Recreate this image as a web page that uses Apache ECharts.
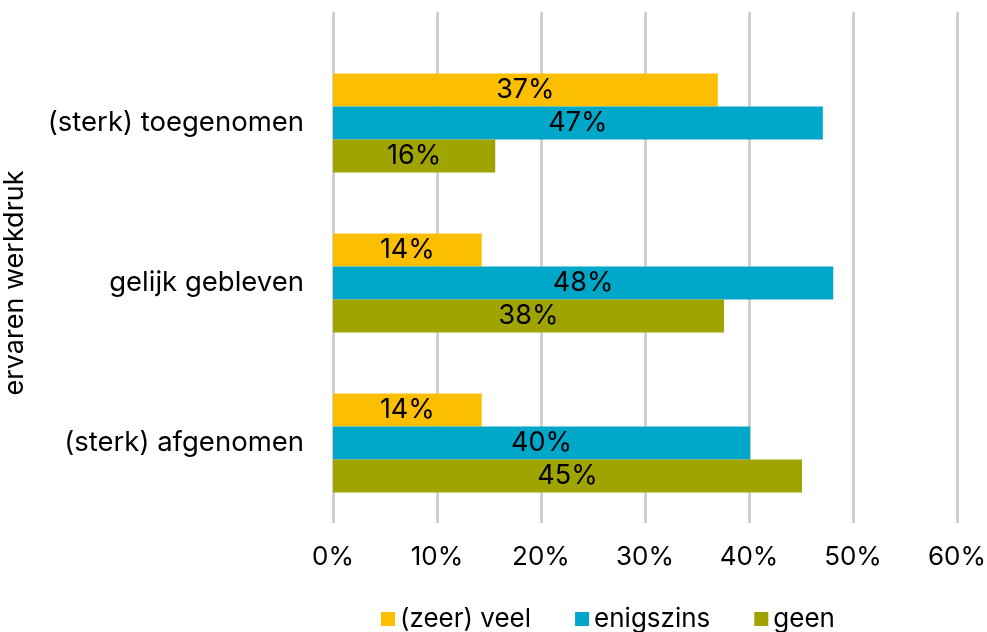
<!DOCTYPE html>
<html>
<head>
<meta charset="utf-8">
<script src="https://cdn.jsdelivr.net/npm/echarts@6/dist/echarts.min.js"></script>
<style>
  html, body { margin: 0; padding: 0; background: #fff; }
  #main { width: 987px; height: 632px; }
</style>
</head>
<body>
<div id="main"></div>
<script>
// categories, top to bottom
const categories = ['(sterk) toegenomen', 'gelijk gebleven', '(sterk) afgenomen'];
const seriesNames = ['(zeer) veel', 'enigszins', 'geen'];
const veel = [37.0, 14.3, 14.3];
const enigszins = [47.1, 48.1, 40.1];
const geen = [15.6, 37.6, 45.1];
const colors = ['#FCBF00', '#00A7C9', '#A0A400'];

const font = 'Inter';
const myChart = echarts.init(document.getElementById('main'));

const gridLine = { show: true, lineStyle: { color: '#d0d0d0', width: 3 } };

var option = {
  textStyle: { fontFamily: font },
  color: colors,
  animation: false,
  legend: {
    left: 381,
    top: 606,
    padding: 0,
    itemWidth: 14,
    itemHeight: 14,
    itemGap: 44,
    icon: 'rect',
    textStyle: { fontSize: 26, color: '#000', fontFamily: font },
    data: seriesNames
  },
  grid: [
    { left: 333, right: 30, top: 43, bottom: 109, outerBoundsMode: 'none' },
    // only to continue the gridlines above the plot
    { left: 333, right: 30, top: 12, height: 45, outerBoundsMode: 'none' }
  ],
  xAxis: [{
    type: 'value',
    min: 0, max: 60, interval: 10,
    axisLine: { show: false },
    axisTick: { show: false },
    splitLine: gridLine,
    axisLabel: {
      formatter: '{value}%',
      fontSize: 26, color: '#000', margin: 21
    }
  }, {
    type: 'value', gridIndex: 1,
    min: 0, max: 60, interval: 10,
    axisLine: { show: false },
    axisTick: { show: false },
    axisLabel: { show: false },
    splitLine: gridLine
  }],
  yAxis: [{
    type: 'category',
    inverse: true,
    data: categories,
    axisLine: { show: false },
    axisTick: { show: false },
    axisLabel: { fontSize: 27.5, color: '#000', margin: 29 },
    name: 'ervaren werkdruk',
    nameLocation: 'middle',
    nameRotate: 90,
    nameGap: 305,
    nameTextStyle: { fontSize: 27, color: '#000' }
  }, {
    type: 'category', gridIndex: 1,
    data: [''],
    show: false
  }],
  series: [veel, enigszins, geen].map((d, i) => ({
    name: seriesNames[i],
    type: 'bar',
    data: d,
    barGap: '0%',
    barCategoryGap: '38%',
    label: {
      show: true,
      position: 'inside',
      color: '#000',
      fontSize: 27,
      formatter: p => Math.round(p.value) + '%'
    }
  }))
};

myChart.setOption(option);
</script>
</body>
</html>
